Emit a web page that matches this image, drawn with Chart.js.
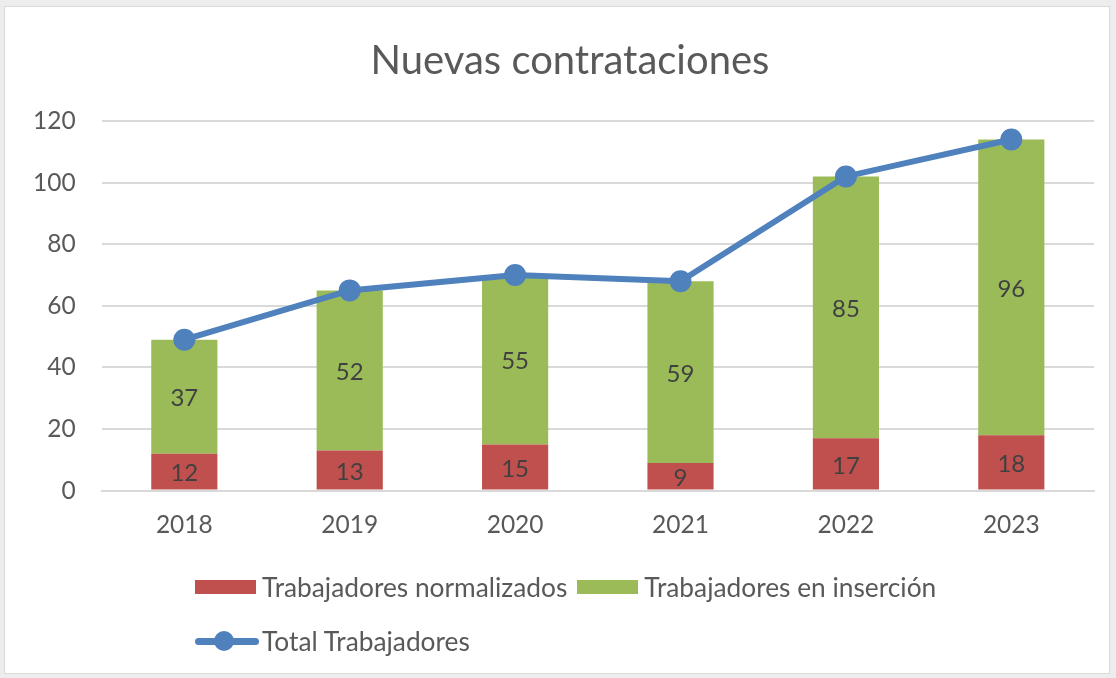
<!DOCTYPE html>
<html>
<head>
<meta charset="utf-8">
<script src="https://cdn.jsdelivr.net/npm/chart.js@4/dist/chart.umd.min.js"></script>
<style>
  html, body { margin: 0; padding: 0; background: #ededed; }
  body { width: 1116px; height: 678px; position: relative; overflow: hidden; font-family: Lato, sans-serif; }
  .frame { position: absolute; left: 4px; top: 6px; width: 1106px; height: 668px; background: #fff; border: 1px solid #d9d9d9; box-sizing: border-box; }
  .wrap { position: absolute; left: 0; top: 0; width: 1116px; height: 678px; }
  .title { position: absolute; left: 570px; top: 35px; transform: translateX(-50%); white-space: nowrap; color: #595959; font-size: 40px; line-height: 48px; }
  .legend { position: absolute; left: 195px; top: 572px; color: #595959; font-size: 26.3px; }
  .legend .row { display: flex; align-items: center; height: 30px; margin-bottom: 24px; }
  .legend .item { display: flex; align-items: center; margin-right: 10px; }
  .legend .box { width: 61px; height: 14px; margin-right: 6px; }
  .legend .line { position: relative; width: 64px; height: 20px; margin-right: 3px; }
  .legend .line::before { content: ''; position: absolute; left: 0; right: 0; top: 7px; height: 7px; border-radius: 4px; background: #4f81bd; }
  .legend .line::after { content: ''; position: absolute; left: 19px; top: 0; width: 20px; height: 20px; border-radius: 50%; background: #4f81bd; }
</style>
</head>
<body>
<div class="frame"></div>
<div class="wrap"><canvas id="chart" width="1116" height="678"></canvas></div>
<div class="title">Nuevas contrataciones</div>
<div class="legend">
  <div class="row">
    <div class="item"><span class="box" style="background:#c0504d"></span>Trabajadores normalizados</div>
    <div class="item"><span class="box" style="background:#9bbb59"></span>Trabajadores en inserción</div>
  </div>
  <div class="row">
    <div class="item"><span class="line"></span>Total Trabajadores</div>
  </div>
</div>
<script>
const years = ['2018', '2019', '2020', '2021', '2022', '2023'];
const normalizados = [12, 13, 15, 9, 17, 18];
const insercion = [37, 52, 55, 59, 85, 96];
const totales = [49, 65, 70, 68, 102, 114];

const FONT = 'Lato, sans-serif';

// numbers inside each bar segment
const barLabels = {
  id: 'barLabels',
  afterDatasetsDraw(c) {
    const ctx = c.ctx;
    ctx.save();
    ctx.font = '24px ' + FONT;
    ctx.fillStyle = '#404040';
    ctx.textAlign = 'center';
    ctx.textBaseline = 'middle';
    c.data.datasets.forEach((ds, i) => {
      if (ds.type === 'line') return;
      c.getDatasetMeta(i).data.forEach((bar, j) => {
        const p = bar.getCenterPoint();
        ctx.fillText(ds.data[j], p.x, p.y + 2);
      });
    });
    ctx.restore();
  },
};

new Chart(document.getElementById('chart'), {
  type: 'bar',
  data: {
    labels: years,
    datasets: [
      {
        type: 'line',
        label: 'Total Trabajadores',
        data: totales,
        borderColor: '#4f81bd',
        backgroundColor: '#4f81bd',
        borderWidth: 6,
        pointRadius: 8,
        pointHoverRadius: 8,
        stack: 'total',
        order: 0,
      },
      {
        label: 'Trabajadores normalizados',
        data: normalizados,
        backgroundColor: '#c0504d',
        stack: 'bars',
        order: 1,
      },
      {
        label: 'Trabajadores en inserción',
        data: insercion,
        backgroundColor: '#9bbb59',
        stack: 'bars',
        order: 1,
      },
    ],
  },
  options: {
    responsive: false,
    animation: false,
    layout: { padding: { left: 7, right: 22, top: 121, bottom: 118 } },
    datasets: { bar: { barPercentage: 0.4, categoryPercentage: 1 } },
    plugins: {
      legend: { display: false },
      tooltip: { enabled: false },
      title: { display: false },
    },
    scales: {
      x: {
        stacked: true,
        grid: { display: false, drawTicks: false },
        border: { color: '#d9d9d9', width: 2 },
        ticks: { color: '#595959', font: { family: FONT, size: 24.5 }, padding: 20 },
      },
      y: {
        stacked: true,
        min: 0,
        max: 120,
        grid: { color: '#d9d9d9', lineWidth: 2, drawTicks: false },
        border: { display: false },
        ticks: { stepSize: 20, color: '#595959', font: { family: FONT, size: 24.5 }, padding: 26 },
      },
    },
  },
  plugins: [barLabels],
});
</script>
</body>
</html>
